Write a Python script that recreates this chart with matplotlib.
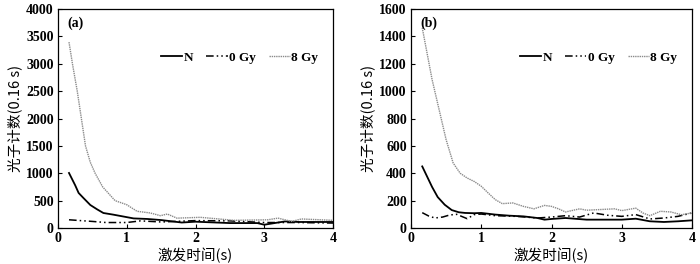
#!/usr/bin/env python3
"""Photon counts vs excitation time, panels (a) and (b)."""
import matplotlib
matplotlib.use("Agg")
import matplotlib.pyplot as plt
from matplotlib.font_manager import FontProperties

# ----- panel (a) -----
a_n_x = [0.16, 0.25, 0.3, 0.37, 0.47, 0.57, 0.66, 0.8, 0.95, 1.1, 1.3, 1.5, 1.8, 2.0, 2.5, 2.9, 3.0, 3.1, 3.3, 3.5, 4.0]
a_n_y = [1005, 780, 640, 548, 420, 340, 274, 245, 210, 175, 165, 145, 100, 115, 90, 90, 60, 80, 120, 110, 110]
a_0_x = [0.16, 0.5, 0.7, 1.0, 1.2, 1.5, 2.0, 2.5, 3.0, 3.5, 4.0]
a_0_y = [150, 120, 100, 100, 130, 110, 135, 130, 100, 100, 90]
a_8_x = [0.16, 0.21, 0.28, 0.34, 0.4, 0.47, 0.54, 0.65, 0.83, 1.0, 1.15, 1.34, 1.49, 1.59, 1.73, 2.07,
         2.56, 3.05, 3.2, 3.4, 3.54, 4.0]
a_8_y = [3395, 3000, 2500, 2000, 1500, 1200, 1000, 750, 500, 425, 305, 275, 225, 255, 180, 195,
         140, 150, 180, 120, 165, 140]

# ----- panel (b) -----
b_n_x = [0.16, 0.3, 0.38, 0.48, 0.58, 0.68, 0.77, 0.9, 1.0, 1.2, 1.4, 1.6, 1.8, 1.9, 2.0, 2.2, 2.5, 2.8, 3.0,
         3.2, 3.4, 3.6, 3.8, 4.0]
b_n_y = [450, 300, 226, 170, 131, 115, 110, 108, 110, 98, 90, 85, 73, 61, 66, 73, 61, 61, 61,
         68, 49, 44, 49, 56]
b_0_x = [0.16, 0.25, 0.34, 0.45, 0.55, 0.65, 0.72, 0.8, 0.9, 1.0, 1.2, 1.5, 1.8, 2.0, 2.2, 2.4, 2.6, 2.8,
         3.0, 3.2, 3.4, 3.6, 3.8, 4.0]
b_0_y = [112, 88, 73, 80, 95, 100, 85, 68, 98, 102, 90, 85, 73, 80, 90, 80, 110, 93,
         85, 98, 66, 73, 85, 110]
b_8_x = [0.16, 0.3, 0.4, 0.5, 0.6, 0.7, 0.8, 0.9, 1.0, 1.1, 1.2, 1.3, 1.45, 1.6, 1.75, 1.9, 2.0, 2.1, 2.2,
         2.4, 2.5, 2.7, 2.9, 3.0, 3.2, 3.3, 3.4, 3.55, 3.7, 3.85, 4.0]
b_8_y = [1463, 1085, 865, 645, 475, 400, 365, 340, 305, 255, 207, 178, 183, 158, 140, 165, 158, 140, 117,
         140, 130, 135, 140, 127, 145, 110, 90, 122, 117, 97, 110]

labels = ["N", "0 Gy", "8 Gy"]
panels = [
    ("(a)", [(a_n_x, a_n_y), (a_0_x, a_0_y), (a_8_x, a_8_y)], 4000, 500),
    ("(b)", [(b_n_x, b_n_y), (b_0_x, b_0_y), (b_8_x, b_8_y)], 1600, 200),
]

serif = {"family": "Liberation Serif", "weight": "bold"}
cjk = ["Noto Sans CJK SC", "DejaVu Sans"]

fig = plt.figure(figsize=(7.0, 2.64), dpi=100)
boxes = [(58 / 700, 36 / 264, 275 / 700, 219 / 264), (411 / 700, 36 / 264, 281 / 700, 219 / 264)]

styles = [
    dict(color="black", lw=1.3, ls="-"),
    dict(color="black", lw=1.1, ls=(0, (5, 2, 1, 2, 1, 2))),
    dict(color="#8a8a8a", lw=1.0, ls=(0, (1, 0.6))),
]

for box, (tag, series, ymax, ystep) in zip(boxes, panels):
    ax = fig.add_axes(box)
    for (x, y), st, lab in zip(series, styles, labels):
        ax.plot(x, y, label=lab, **st)
    ax.set_xlim(0, 4)
    ax.set_ylim(0, ymax)
    ax.set_xticks(range(5))
    ax.set_yticks(range(0, ymax + 1, ystep))
    ax.tick_params(direction="in", length=3, width=0.8, pad=3)
    for lbl in ax.get_xticklabels() + ax.get_yticklabels():
        lbl.set_fontproperties(FontProperties(size=10, **serif))
    for s in ax.spines.values():
        s.set_linewidth(0.9)
    ax.text(0.035, 0.965, tag, transform=ax.transAxes, ha="left", va="top", fontsize=10, **serif)
    ax.set_xlabel("激发时间(s)", family=cjk, fontsize=10.5, labelpad=2)
    ax.set_ylabel("光子计数(0.16 s)", family=cjk, fontsize=10.5, labelpad=3)
    ax.legend(loc="upper right", bbox_to_anchor=(0.99, 0.86), ncol=3, frameon=False,
              handlelength=1.6, handletextpad=0.1, columnspacing=1.0,
              prop=FontProperties(size=9.5, **serif))

fig.savefig("out.png", dpi=100)
